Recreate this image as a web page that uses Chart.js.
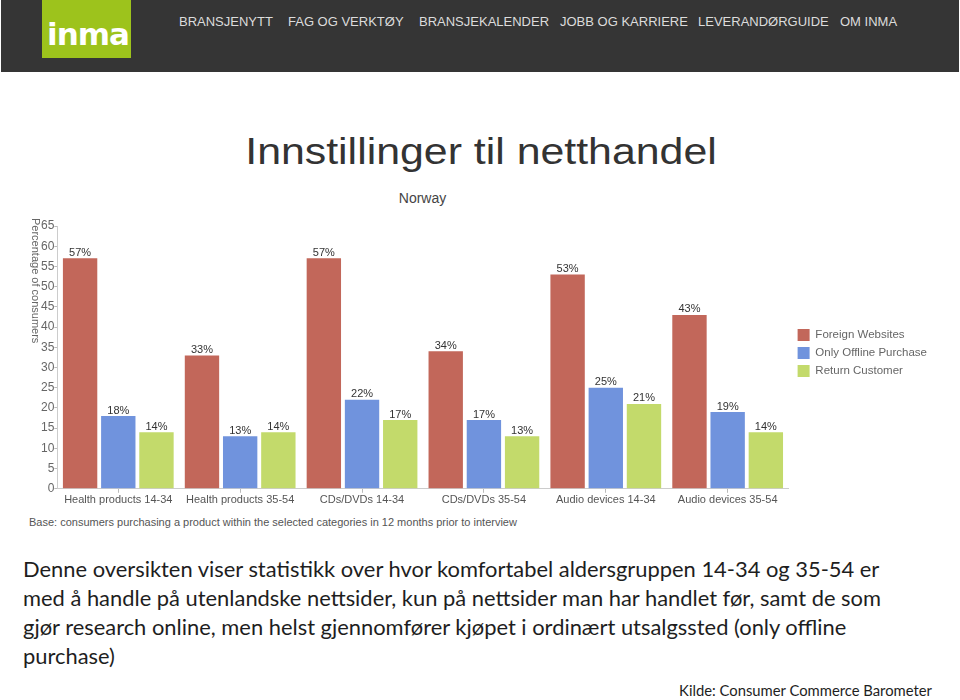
<!DOCTYPE html>
<html>
<head>
<meta charset="utf-8">
<script src="https://cdn.jsdelivr.net/npm/chart.js@4.4.1/dist/chart.umd.min.js"></script>
<style>
  html, body { margin: 0; padding: 0; background: #fff; }
  #page { position: relative; width: 960px; height: 700px; overflow: hidden; background: #fff; }
  #header { position: absolute; left: 1px; top: 0; width: 958px; height: 72px; background: #353535; }
  #logo { position: absolute; left: 41px; top: 0; width: 89px; height: 58px; background: #9dc31c; }
  #logo span { position: absolute; left: 5px; top: 16px; font: bold 31px "DejaVu Sans", sans-serif; color: #fff; letter-spacing: -1px; }
  .nav { position: absolute; top: 14px; font: 13px "Liberation Sans", Arial, sans-serif; color: #dcdcdc; white-space: nowrap; }
  #title { position: absolute; left: 0; width: 962px; top: 131px; text-align: center; font: 36px "Liberation Sans", Arial, sans-serif; color: #333; transform: scaleX(1.19); transform-origin: 481px 0; }
  #subtitle { position: absolute; left: 0; width: 845px; top: 190px; text-align: center; font: 14px "Liberation Sans", Arial, sans-serif; color: #444; }
  #chartbox { position: absolute; left: 0; top: 210px; width: 960px; height: 300px; }
  #base { position: absolute; left: 29px; top: 516px; font: 11px "Liberation Sans", Arial, sans-serif; color: #555; white-space: nowrap; }
  #para { position: absolute; left: 23px; top: 554px; font: 21.9px Lato, "Noto Sans", sans-serif; line-height: 29px; color: #1e1e1e; white-space: nowrap; }
  #source { position: absolute; right: 28px; top: 681px; font: 14.8px Lato, "Noto Sans", sans-serif; color: #1e1e1e; white-space: nowrap; }
</style>
</head>
<body>
<div id="page">
  <div id="header">
    <div id="logo"><span>inma</span></div>
    <div class="nav" style="left:178px">BRANSJENYTT</div>
    <div class="nav" style="left:287px">FAG OG VERKTØY</div>
    <div class="nav" style="left:418px">BRANSJEKALENDER</div>
    <div class="nav" style="left:559px">JOBB OG KARRIERE</div>
    <div class="nav" style="left:697px">LEVERANDØRGUIDE</div>
    <div class="nav" style="left:839px">OM INMA</div>
  </div>
  <div id="title">Innstillinger til netthandel</div>
  <div id="subtitle">Norway</div>
  <div id="chartbox"><canvas id="c" width="960" height="300"></canvas></div>
  <div id="base">Base: consumers purchasing a product within the selected categories in 12 months prior to interview</div>
  <div id="para">Denne oversikten viser statistikk over hvor komfortabel aldersgruppen 14-34 og 35-54 er<br>med å handle på utenlandske nettsider, kun på nettsider man har handlet før, samt de som<br>gjør research online, men helst gjennomfører kjøpet i ordinært utsalgssted (only offline<br>purchase)</div>
  <div id="source">Kilde: Consumer Commerce Barometer</div>
</div>
<script>
const categories = ["Health products 14-34", "Health products 35-54", "CDs/DVDs 14-34", "CDs/DVDs 35-54", "Audio devices 14-34", "Audio devices 35-54"];
const foreignWebsites = [57, 33, 57, 34, 53, 43];
const onlyOfflinePurchase = [18, 13, 22, 17, 25, 19];
const returnCustomer = [14, 14, 17, 13, 21, 14];
const seriesNames = ["Foreign Websites", "Only Offline Purchase", "Return Customer"];
const yTicks = [0, 5, 10, 15, 20, 25, 30, 35, 40, 45, 50, 55, 60, 65];
const yAxisTitle = "Percentage of consumers";

const barLabels = {
  id: 'barLabels',
  afterDatasetsDraw(chart) {
    const ctx = chart.ctx;
    ctx.save();
    ctx.font = '11px "Liberation Sans", Arial, sans-serif';
    ctx.fillStyle = '#333';
    ctx.textAlign = 'center';
    ctx.textBaseline = 'bottom';
    chart.data.datasets.forEach((ds, i) => {
      chart.getDatasetMeta(i).data.forEach((bar, j) => {
        ctx.fillText(ds.data[j] + '%', bar.x, bar.y);
      });
    });
    ctx.restore();
  }
};
const yTitle = {
  id: 'yTitle',
  afterDraw(chart) {
    const ctx = chart.ctx;
    const top = chart.scales.y.top;
    ctx.save();
    ctx.translate(35, top - 8);
    ctx.rotate(Math.PI / 2);
    ctx.font = '11px "Liberation Sans", Arial, sans-serif';
    ctx.fillStyle = '#666';
    ctx.textAlign = 'left';
    ctx.textBaseline = 'middle';
    ctx.fillText(yAxisTitle, 0, 0);
    ctx.restore();
  }
};
const legendShift = {
  id: 'legendShift',
  afterLayout(chart) {
    chart.legend.top -= 14;
    chart.legend.bottom -= 14;
    chart.legend.left += 3;
    chart.legend.right += 3;
  }
};

new Chart(document.getElementById('c'), {
  type: 'bar',
  data: {
    labels: categories,
    datasets: [
      { label: seriesNames[0], data: foreignWebsites, backgroundColor: '#c2675a' },
      { label: seriesNames[1], data: onlyOfflinePurchase, backgroundColor: '#7093dd' },
      { label: seriesNames[2], data: returnCustomer, backgroundColor: '#c3da6b' }
    ]
  },
  options: {
    responsive: false,
    animation: false,
    devicePixelRatio: 1,
    layout: { padding: { left: 41, right: 26, top: 16, bottom: 2 } },
    datasets: { bar: { categoryPercentage: 0.94, barPercentage: 0.9 } },
    scales: {
      x: {
        grid: { display: true, drawOnChartArea: false, offset: false, tickLength: 4, color: '#bbb' },
        border: { color: '#ccc' },
        ticks: { color: '#555', font: { size: 11, family: '"Liberation Sans", Arial, sans-serif' }, padding: 1, maxRotation: 0 }
      },
      y: {
        min: 0, max: 65,
        afterBuildTicks(axis) { axis.ticks = yTicks.map(v => ({ value: v })); },
        grid: { display: true, drawOnChartArea: false, tickLength: 3, color: '#bbb' },
        border: { color: '#ccc' },
        ticks: { color: '#666', font: { size: 12, family: '"Liberation Sans", Arial, sans-serif' }, padding: 0 }
      }
    },
    plugins: {
      legend: {
        position: 'right',
        labels: { boxWidth: 12, boxHeight: 12, padding: 6, color: '#666', font: { size: 11.5, family: '"Liberation Sans", Arial, sans-serif' } }
      },
      tooltip: { enabled: false }
    }
  },
  plugins: [barLabels, yTitle, legendShift]
});
</script>
</body>
</html>
